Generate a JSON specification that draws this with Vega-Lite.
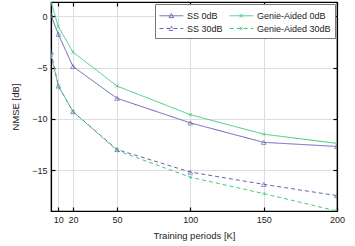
{
  "$schema": "https://vega.github.io/schema/vega-lite/v6.json",
  "autosize": "none",
  "padding": {"left": 51, "top": 2, "right": 17, "bottom": 35},
  "width": 286,
  "height": 209,
  "config": {
    "font": "Liberation Sans",
    "view": {"stroke": "black", "strokeWidth": 1.2},
    "axis": {"labelFont": "Liberation Sans", "titleFont": "Liberation Sans", "labelFontSize": 9, "titleFontSize": 9.5, "titleFontWeight": "normal", "labelColor": "#222", "titleColor": "#222", "domainColor": "black", "domainWidth": 1.2, "tickColor": "black", "tickWidth": 1.2, "gridColor": "#dddddd", "gridWidth": 1}
  },
  "data": {"values": [
    {"series": "SS 0dB", "k": 5, "v": 0.1},
    {"series": "SS 0dB", "k": 10, "v": -1.75},
    {"series": "SS 0dB", "k": 20, "v": -4.9},
    {"series": "SS 0dB", "k": 50, "v": -8.0},
    {"series": "SS 0dB", "k": 100, "v": -10.4},
    {"series": "SS 0dB", "k": 150, "v": -12.3},
    {"series": "SS 0dB", "k": 200, "v": -12.7},
    {"series": "Genie-Aided 0dB", "k": 5, "v": 1.4},
    {"series": "Genie-Aided 0dB", "k": 10, "v": -1.0},
    {"series": "Genie-Aided 0dB", "k": 20, "v": -3.5},
    {"series": "Genie-Aided 0dB", "k": 50, "v": -6.8},
    {"series": "Genie-Aided 0dB", "k": 100, "v": -9.6},
    {"series": "Genie-Aided 0dB", "k": 150, "v": -11.5},
    {"series": "Genie-Aided 0dB", "k": 200, "v": -12.4},
    {"series": "SS 30dB", "k": 5, "v": -3.5},
    {"series": "SS 30dB", "k": 10, "v": -6.8},
    {"series": "SS 30dB", "k": 20, "v": -9.3},
    {"series": "SS 30dB", "k": 50, "v": -13.0},
    {"series": "SS 30dB", "k": 100, "v": -15.2},
    {"series": "SS 30dB", "k": 150, "v": -16.4},
    {"series": "SS 30dB", "k": 200, "v": -17.5},
    {"series": "Genie-Aided 30dB", "k": 5, "v": -3.8},
    {"series": "Genie-Aided 30dB", "k": 10, "v": -6.8},
    {"series": "Genie-Aided 30dB", "k": 20, "v": -9.3},
    {"series": "Genie-Aided 30dB", "k": 50, "v": -13.1},
    {"series": "Genie-Aided 30dB", "k": 100, "v": -15.7},
    {"series": "Genie-Aided 30dB", "k": 150, "v": -17.3},
    {"series": "Genie-Aided 30dB", "k": 200, "v": -19.0}
  ]},
  "resolve": {"axis": {"x": "independent", "y": "independent"}},
  "layer": [
    {
      "mark": {"type": "line", "strokeWidth": 1, "clip": true},
      "encoding": {
        "x": {"field": "k", "type": "quantitative", "scale": {"domain": [5, 200], "nice": false, "zero": false},
              "axis": {"title": "Training periods [K]", "values": [10, 20, 50, 100, 150, 200], "tickSize": -4, "labelPadding": 8, "titlePadding": 6, "grid": true, "labelFlush": false}},
        "y": {"field": "v", "type": "quantitative", "scale": {"domain": [-19, 1.4], "nice": false, "zero": false},
              "axis": {"title": "NMSE [dB]", "values": [-15, -10, -5, 0], "tickSize": -4, "labelPadding": 8, "titlePadding": 11, "grid": true}},
        "color": {"field": "series", "type": "nominal",
                  "scale": {"domain": ["SS 0dB", "Genie-Aided 0dB", "SS 30dB", "Genie-Aided 30dB"], "range": ["#6262b8", "#40cc7c", "#6262b8", "#40cc7c"]},
                  "legend": {"title": null, "orient": "top-right", "columns": 2, "offset": 2, "padding": 4, "columnPadding": 4, "rowPadding": 0,
                             "values": ["SS 0dB", "SS 30dB", "Genie-Aided 0dB", "Genie-Aided 30dB"],
                             "fillColor": "white", "strokeColor": "#777", "labelFont": "Liberation Sans", "labelFontSize": 9, "labelColor": "#222",
                             "symbolSize": 196, "symbolStrokeWidth": 1, "symbolFillColor": "transparent", "labelOffset": 13, "cornerRadius": 0,
                             "encode": {"symbols": {"update": {
                               "shape": {"signal": "indexof(datum.value, 'SS') === 0 ? 'M-1,0L2.4,0M0.37,0.27L1.03,0.27L0.7,-0.33Z' : 'M-1,0L2.4,0M0.45,-0.25L0.95,0.25M0.45,0.25L0.95,-0.25'"},
                               "strokeDash": {"signal": "indexof(datum.value, '30') >= 0 ? [3, 3] : [1, 0]"},
                               "fill": {"value": "transparent"}
                             }}}}},
        "strokeDash": {"field": "series", "type": "nominal",
                       "scale": {"domain": ["SS 0dB", "Genie-Aided 0dB", "SS 30dB", "Genie-Aided 30dB"], "range": [[1, 0], [1, 0], [4, 3], [4, 3]]},
                       "legend": null}
      }
    },
    {
      "transform": [{"filter": "indexof(datum.series, 'SS') === 0"}],
      "mark": {"type": "point", "filled": false, "strokeWidth": 1, "size": 22, "clip": true, "shape": "triangle-up"},
      "encoding": {
        "x": {"field": "k", "type": "quantitative", "scale": {"domain": [5, 200], "nice": false, "zero": false},
              "axis": {"orient": "top", "title": null, "labels": false, "values": [10, 20, 50, 100, 150, 200], "tickSize": -4, "grid": false}},
        "y": {"field": "v", "type": "quantitative", "scale": {"domain": [-19, 1.4], "nice": false, "zero": false},
              "axis": {"orient": "right", "title": null, "labels": false, "values": [-15, -10, -5, 0], "tickSize": -4, "grid": false}},
        "color": {"field": "series", "type": "nominal", "legend": null,
                  "scale": {"domain": ["SS 0dB", "Genie-Aided 0dB", "SS 30dB", "Genie-Aided 30dB"], "range": ["#6262b8", "#40cc7c", "#6262b8", "#40cc7c"]}}
      }
    },
    {
      "transform": [{"filter": "indexof(datum.series, 'Genie') === 0"}],
      "mark": {"type": "point", "filled": false, "strokeWidth": 1, "size": 22, "clip": true, "shape": "M-0.7,-0.7L0.7,0.7M-0.7,0.7L0.7,-0.7"},
      "encoding": {
        "x": {"field": "k", "type": "quantitative", "axis": null},
        "y": {"field": "v", "type": "quantitative", "axis": null},
        "color": {"field": "series", "type": "nominal", "legend": null,
                  "scale": {"domain": ["SS 0dB", "Genie-Aided 0dB", "SS 30dB", "Genie-Aided 30dB"], "range": ["#6262b8", "#40cc7c", "#6262b8", "#40cc7c"]}}
      }
    }
  ]
}
